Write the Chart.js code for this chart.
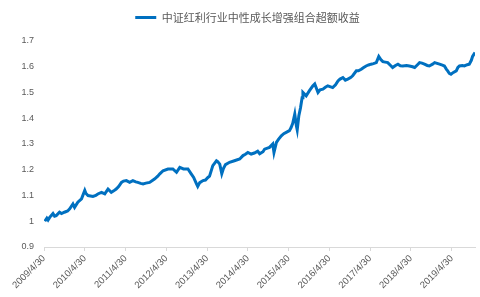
<!DOCTYPE html>
<html>
<head>
<meta charset="utf-8">
<script src="https://cdn.jsdelivr.net/npm/chart.js@4"></script>
<style>
  html, body { margin: 0; padding: 0; background: #fff; }
  #wrap { width: 480px; height: 297px; }
</style>
</head>
<body>
<div id="wrap"><canvas id="excessChart"></canvas></div>
<script>
const seriesName = '中证红利行业中性成长增强组合超额收益';

// tick labels on the x axis, one per year
const tickLabels = ['2009/4/30', '2010/4/30', '2011/4/30', '2012/4/30', '2013/4/30', '2014/4/30',
    '2015/4/30', '2016/4/30', '2017/4/30', '2018/4/30', '2019/4/30'];

// years since 2009/4/30
const yearsSince = [0.02,0.07,0.10,0.14,0.22,0.26,0.30,0.38,0.43,0.50,
    0.58,0.63,0.71,0.75,0.83,0.92,1.00,1.03,1.08,1.14,
    1.20,1.27,1.32,1.41,1.49,1.57,1.65,1.71,1.77,1.83,
    1.90,1.95,2.02,2.10,2.18,2.25,2.30,2.37,2.43,2.50,
    2.59,2.71,2.79,2.84,2.92,3.04,3.16,3.25,3.33,3.42,
    3.53,3.61,3.67,3.74,3.77,3.82,3.90,3.96,4.02,4.06,
    4.14,4.23,4.26,4.31,4.36,4.40,4.45,4.55,4.67,4.80,
    4.88,4.94,5.00,5.08,5.16,5.24,5.29,5.37,5.41,5.48,
    5.53,5.61,5.64,5.70,5.75,5.82,5.88,5.94,6.02,6.06,
    6.10,6.15,6.19,6.21,6.25,6.29,6.33,6.35,6.43,6.51,
    6.59,6.64,6.72,6.77,6.84,6.90,6.96,7.03,7.08,7.15,
    7.21,7.26,7.33,7.39,7.45,7.52,7.57,7.66,7.71,7.78,
    7.84,7.90,7.96,8.02,8.08,8.15,8.21,8.26,8.31,8.37,
    8.43,8.50,8.55,8.62,8.68,8.74,8.80,8.89,8.96,9.04,
    9.09,9.16,9.21,9.27,9.33,9.40,9.45,9.53,9.58,9.64,
    9.70,9.77,9.82,9.87,9.90,9.94,9.98,10.04,10.11,10.15,
    10.19,10.26,10.31,10.38,10.43,10.48,10.51,10.55,10.57];

// excess return (net value)
const excess = [1.00,1.012,1.005,1.015,1.03,1.02,1.022,1.035,1.03,1.035,
    1.04,1.048,1.067,1.054,1.074,1.087,1.12,1.108,1.10,1.098,
    1.096,1.10,1.106,1.112,1.106,1.125,1.112,1.118,1.125,1.135,
    1.151,1.156,1.158,1.151,1.158,1.153,1.151,1.147,1.145,1.148,
    1.151,1.164,1.175,1.184,1.196,1.203,1.203,1.19,1.209,1.203,
    1.203,1.184,1.17,1.145,1.135,1.15,1.158,1.16,1.17,1.175,
    1.216,1.235,1.232,1.222,1.185,1.205,1.22,1.229,1.235,1.242,
    1.255,1.26,1.267,1.261,1.265,1.272,1.262,1.27,1.28,1.284,
    1.287,1.30,1.267,1.306,1.318,1.332,1.34,1.345,1.352,1.364,
    1.38,1.416,1.37,1.355,1.41,1.44,1.48,1.50,1.487,1.507,
    1.525,1.533,1.50,1.51,1.513,1.52,1.526,1.522,1.519,1.53,
    1.545,1.552,1.558,1.548,1.552,1.558,1.565,1.584,1.584,1.59,
    1.597,1.603,1.607,1.61,1.612,1.616,1.64,1.628,1.62,1.618,
    1.616,1.605,1.597,1.605,1.61,1.604,1.603,1.605,1.603,1.60,
    1.597,1.608,1.616,1.614,1.61,1.605,1.603,1.61,1.616,1.613,
    1.61,1.606,1.603,1.59,1.584,1.574,1.571,1.578,1.584,1.597,
    1.603,1.605,1.603,1.608,1.61,1.625,1.64,1.65,1.655];

const textColor = '#595959';
const axisColor = '#d9d9d9';
const lineColor = '#0070c0';

const points = yearsSince.map((t, i) => ({ x: t, y: excess[i] }));

// legend: a bit more room below it, and nudged right like the original
const legendTweak = {
    id: 'legendTweak',
    beforeInit(chart) {
        const fit = chart.legend.fit;
        chart.legend.fit = function () {
            fit.bind(chart.legend)();
            this.height += 8;
        };
    },
    afterLayout(chart) {
        chart.legend.left += 10;
        chart.legend.right += 10;
    }
};

new Chart(document.getElementById('excessChart'), {
    type: 'line',
    data: {
        datasets: [{
            label: seriesName,
            data: points,
            borderColor: lineColor,
            backgroundColor: lineColor,
            borderWidth: 3,
            pointRadius: 0,
            tension: 0,
            fill: false
        }]
    },
    options: {
        animation: false,
        responsive: true,
        maintainAspectRatio: false,
        layout: { padding: { top: 0, right: 5, left: 0, bottom: 0 } },
        plugins: {
            legend: {
                position: 'top',
                labels: {
                    boxWidth: 21,
                    boxHeight: 0,
                    padding: 12,
                    color: textColor,
                    font: { family: '"Noto Sans CJK SC", sans-serif', size: 11 }
                }
            },
            tooltip: { enabled: false }
        },
        scales: {
            x: {
                type: 'linear',
                min: 0,
                max: 10.57,
                afterBuildTicks: (axis) => {
                    axis.ticks = tickLabels.map((l, i) => ({ value: i }));
                },
                afterFit: (axis) => { axis.height = 50; },
                grid: { display: true, drawOnChartArea: false, drawTicks: true, tickLength: 4, color: axisColor },
                border: { display: true, color: axisColor },
                ticks: {
                    autoSkip: false,
                    minRotation: 45,
                    maxRotation: 45,
                    padding: 2,
                    color: textColor,
                    font: { family: '"Liberation Sans", sans-serif', size: 9.5 },
                    callback: (v, i) => tickLabels[i]
                }
            },
            y: {
                min: 0.9,
                max: 1.7,
                afterFit: (axis) => { axis.width = 44; },
                grid: { display: false, drawTicks: false },
                border: { display: false },
                ticks: {
                    stepSize: 0.1,
                    padding: 10,
                    color: textColor,
                    font: { family: '"Liberation Sans", sans-serif', size: 9 },
                    callback: (v) => String(+v.toFixed(1))
                }
            }
        }
    },
    plugins: [legendTweak]
});
</script>
</body>
</html>
